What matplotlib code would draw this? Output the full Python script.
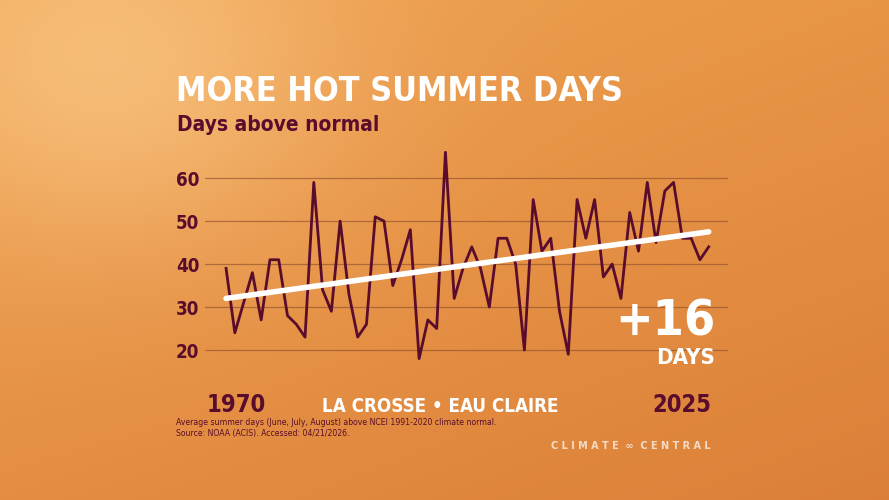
import matplotlib
matplotlib.use('Agg')
import matplotlib.pyplot as plt
import numpy as np

years = list(range(1970, 2026))
days = [39, 24, 31, 38, 27, 41, 41, 28, 26, 23,
        59, 34, 29, 50, 33, 23, 26, 51, 50, 35,
        41, 48, 18, 27, 25, 66, 32, 39, 44, 39,
        30, 46, 46, 40, 20, 55, 43, 46, 29, 19,
        55, 46, 55, 37, 40, 32, 52, 43, 59, 45,
        57, 59, 46, 46, 41, 44]
yticks = [20, 30, 40, 50, 60]
trend_ends = [32, 47.5]

W, H = 889, 500
fig = plt.figure(figsize=(W / 100, H / 100), dpi=100)

# background gradient with a soft glow top-left
bg = fig.add_axes([0, 0, 1, 1])
yy, xx = np.mgrid[0:H, 0:W]
base = np.array([0.94, 0.64, 0.32])
bottom = np.array([0.86, 0.50, 0.22])
t = (yy / H)[..., None] * 0.6 + (xx / W)[..., None] * 0.4
img = base * (1 - t) + bottom * t
glow = np.exp(-(((xx - 110) / 230.0) ** 2 + ((yy - 70) / 180.0) ** 2))[..., None]
img = img * (1 - 0.5 * glow) + np.array([1.0, 0.85, 0.62]) * 0.5 * glow
bg.imshow(np.clip(img, 0, 1), extent=[0, W, H, 0], aspect='auto')
bg.set_xlim(0, W); bg.set_ylim(H, 0); bg.axis('off')

maroon = '#5a0c2c'
cond = dict(family='DejaVu Sans', stretch='condensed', fontweight='bold')

def px(x, y):
    return x / W, 1 - y / H

ax = fig.add_axes([205 / W, 1 - 370 / H, (728 - 205) / W, (370 - 145) / H])
ax.set_facecolor('none')
ax.set_xlim(1967.6, 2027.2)
ax.set_ylim(15.35, 67.7)
for y in yticks:
    ax.axhline(y, color='#8a4a2a', lw=0.9, alpha=0.6, zorder=0)
ax.plot(years, days, color=maroon, lw=2.0, zorder=2)
ax.plot([years[0], years[-1]], trend_ends, color='white', lw=4, solid_capstyle='round', zorder=3)
for s in ax.spines.values():
    s.set_visible(False)
ax.set_xticks([])
ax.set_yticks(yticks)
ax.tick_params(axis='y', length=0, pad=4)
ax.set_yticklabels([str(v) for v in yticks], color=maroon, fontsize=13.5, **cond)

fig.text(*px(176, 101), 'MORE HOT SUMMER DAYS', color='white', fontsize=24.5, va='baseline', **cond)
fig.text(*px(177, 131), 'Days above normal', color=maroon, fontsize=15, va='baseline', **cond)
fig.text(*px(207, 412), '1970', color=maroon, fontsize=17, va='baseline', **cond)
fig.text(*px(711, 412), '2025', color=maroon, fontsize=17, va='baseline', ha='right', **cond)
fig.text(*px(440, 412), 'LA CROSSE \u2022 EAU CLAIRE', color='white', fontsize=13.5, va='baseline', ha='center', **cond)
fig.text(*px(716, 336), '+16', color='white', fontsize=36, va='baseline', ha='right', **cond)
fig.text(*px(715, 364), 'DAYS', color='white', fontsize=16, va='baseline', ha='right', **cond)
fig.text(*px(176, 436), 'Average summer days (June, July, August) above NCEI 1991-2020 climate normal.\nSource: NOAA (ACIS). Accessed: 04/21/2026.',
         color=maroon, fontsize=5.6, va='baseline', linespacing=1.25)
fig.text(*px(711, 449), 'C L I M A T E  \u221e  C E N T R A L', color='#f6dcc8', fontsize=7, fontweight='bold', va='baseline', ha='right')

fig.savefig('out.png', dpi=100)
